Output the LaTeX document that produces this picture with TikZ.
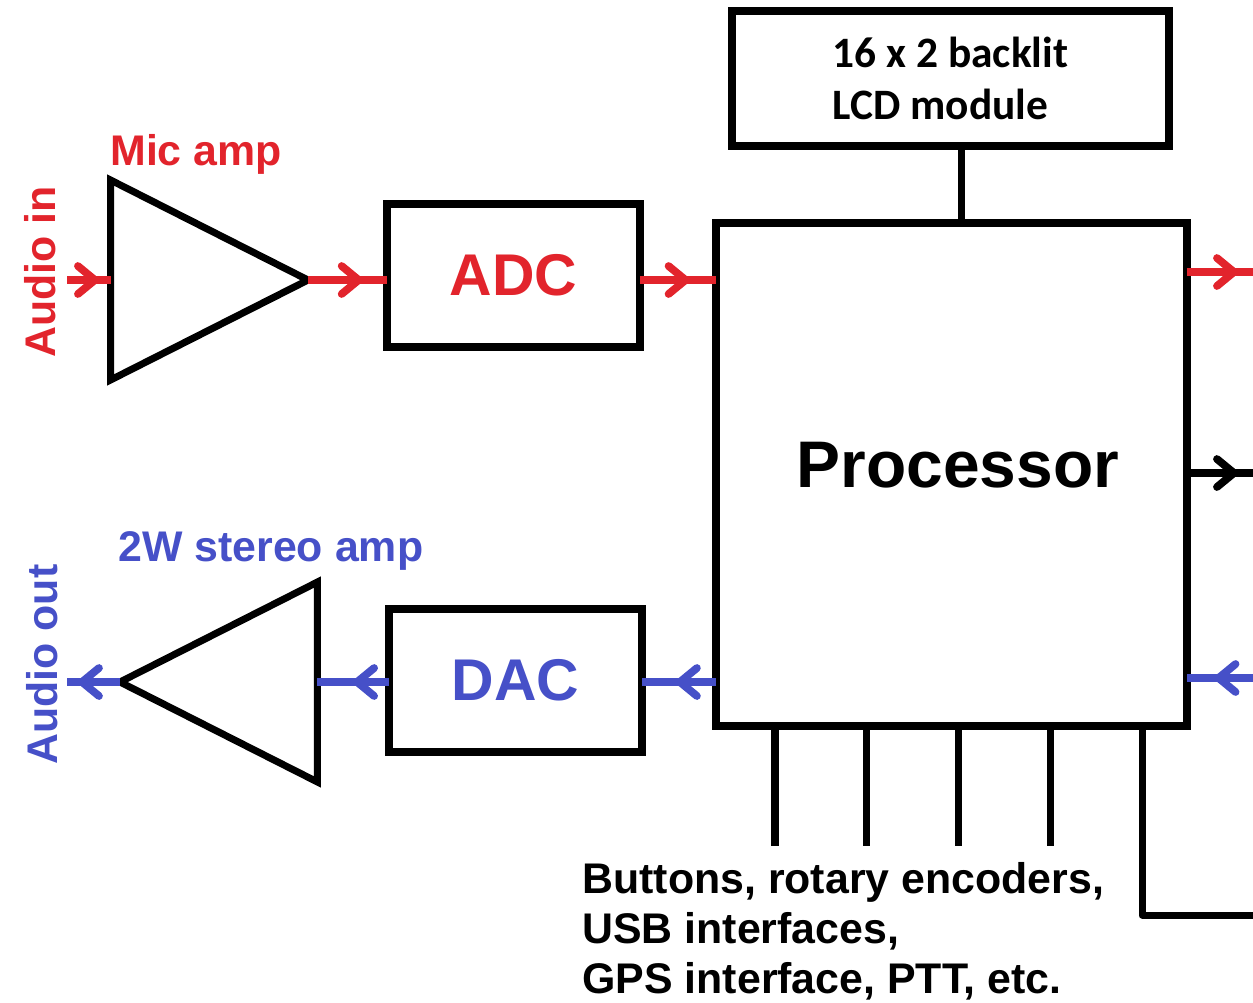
\documentclass[tikz,border=0pt]{standalone}
\usepackage{fontspec}
\setmainfont{Liberation Sans}
\newfontfamily\lcdfont{Carlito}
\usepackage{xcolor}
\usepackage{tikz}
\usetikzlibrary{shapes.geometric,arrows.meta,positioning,calc,decorations.markings}
\definecolor{sigred}{RGB}{226,36,44}
\definecolor{sigblue}{RGB}{70,80,200}

\begin{document}
\begin{tikzpicture}[
  x=0.02cm, y=-0.02cm,
  blk/.style={draw, line width=4.5pt, inner sep=0pt, outer sep=0pt},
  amp/.style={draw, line width=4pt, isosceles triangle, isosceles triangle stretches,
              minimum width=4cm, minimum height=3.95cm, inner sep=0pt, outer sep=0pt},
  lbl/.style={font=\fontsize{24.4}{28.4}\selectfont\bfseries, inner sep=0pt},
  big/.style={font=\fontsize{33.5}{40}\selectfont\bfseries},
  wire/.style={line width=4pt},
  ar/.style={line width=4.4pt, postaction={decorate},
             decoration={markings, mark=at position #1 with
               {\arrow{Straight Barb[length=3.4mm, width=5.6mm, round]}}}}
]
  \useasboundingbox (0,0) rectangle (1253,1002);
  \node[blk, minimum width=8.74cm, minimum height=2.7cm, align=left,
        font=\lcdfont\fontsize{24.7}{29.5}\selectfont\bfseries] (lcd) at (950.5,78.5)
        {16 x 2 backlit\\LCD module};
  \node[blk, minimum width=9.42cm, minimum height=10.06cm] (proc) at (951.5,474.5) {};
  \node[font=\fontsize{37.5}{44}\selectfont\bfseries] (ptxt) at (958,465) {Processor};
  \node[blk, big, minimum width=5.06cm, minimum height=2.86cm, text=sigred] (adc) at (513.5,275.5) {ADC};
  \node[blk, big, minimum width=5.06cm, minimum height=2.86cm, text=sigblue] (dac) at (515.5,680.5) {DAC};
  \node[amp, anchor=apex] (mic) at (308,280) {};
  \node[amp, shape border rotate=180, anchor=apex] (spk) at (120,682) {};
  % labels
  \node[lbl, text=sigred, anchor=base west] (miclbl) at (110,165) {Mic amp};
  \node[lbl, text=sigblue, anchor=base west] (spklbl) at (118,561) {2W stereo amp};
  \node[lbl, text=sigred, rotate=90, anchor=base west] (ain) at (55,358) {Audio in};
  \node[lbl, text=sigblue, rotate=90, anchor=base west] (aout) at (57,765) {Audio out};
  \node[lbl, align=left, anchor=north west] (io) at (582,862)
        {Buttons, rotary encoders,\\USB interfaces,\\GPS interface, PTT, etc.};
  % free ends
  \coordinate (ain0) at (67,280);
  \coordinate (aout0) at (67,682);
  \coordinate (rout) at (1253,272);
  \coordinate (cout) at (1253,473);
  \coordinate (bin) at (1253,678);
  \coordinate (b1) at (775,846);
  \coordinate (b2) at (866,846);
  \coordinate (b3) at (958,846);
  \coordinate (b4) at (1050,846);
  \coordinate (usbk) at (1142,915);
  \coordinate (usb) at (1253,915);
  % audio in path
  \draw[ar=0.73, sigred] (ain0) -- (mic.west);
  \draw[ar=0.69, sigred] (mic.apex) -- (adc.west |- mic.apex);
  \draw[ar=0.65, sigred] (adc.east |- mic.apex) -- (proc.west |- mic.apex);
  % audio out path
  \draw[ar=0.54, sigblue] (proc.west |- spk.apex) -- (dac.east |- spk.apex);
  \draw[ar=0.5, sigblue] (dac.west |- spk.apex) -- (spk.east);
  \draw[ar=0.79, sigblue] (spk.apex) -- (aout0);
  % right side
  \draw[ar=0.77, sigred] (proc.east |- rout) -- (rout);
  \draw[ar=0.77] (proc.east |- cout) -- (cout);
  \draw[ar=0.58, sigblue] (bin) -- (proc.east |- bin);
  % lcd and controls
  \draw[wire] ($(lcd.south)+(11,0)$) -- ($(proc.north)+(10,0)$);
  \draw[wire] (proc.south -| b1) -- (b1);
  \draw[wire] (proc.south -| b2) -- (b2);
  \draw[wire] (proc.south -| b3) -- (b3);
  \draw[wire] (proc.south -| b4) -- (b4);
  \draw[wire, line join=round] (proc.south -| usbk) -- (usbk) -- (usb);
\end{tikzpicture}
\end{document}
